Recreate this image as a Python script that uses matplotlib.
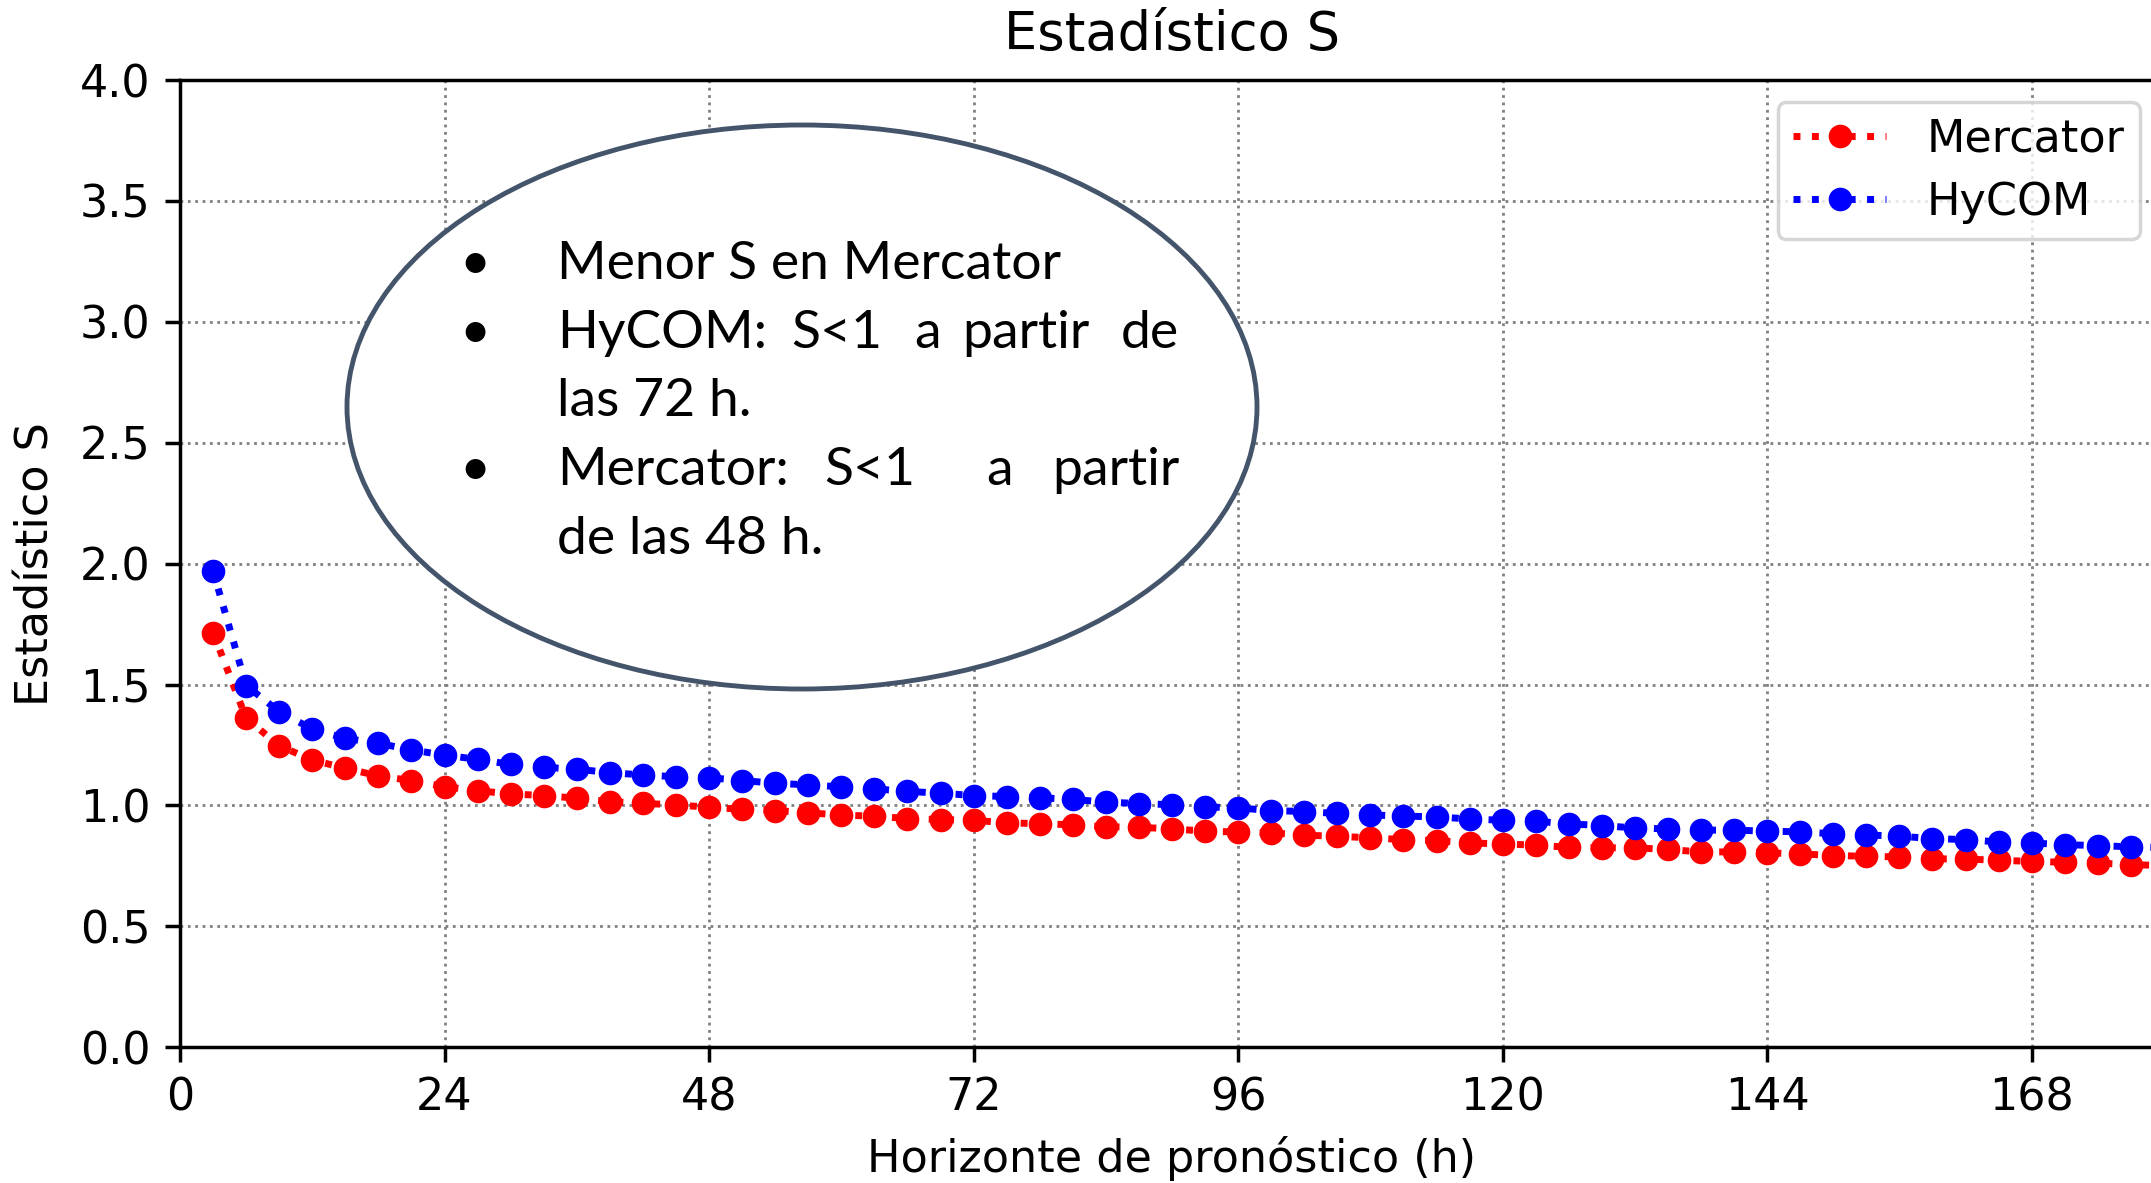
import numpy as np
import matplotlib
matplotlib.use("Agg")
import matplotlib.pyplot as plt
from matplotlib.patches import Ellipse

# forecast horizon (h) and S statistic per model
horas = [3, 6, 9, 12, 15, 18, 21, 24, 27, 30, 33, 36, 39, 42, 45, 48, 51, 54, 57, 60,
         63, 66, 69, 72, 75, 78, 81, 84, 87, 90, 93, 96, 99, 102, 105, 108, 111, 114, 117, 120,
         123, 126, 129, 132, 135, 138, 141, 144, 147, 150, 153, 156, 159, 162, 165, 168, 171, 174, 177, 180]

s_mercator = [1.715, 1.361, 1.247, 1.188, 1.154, 1.122, 1.103, 1.078, 1.061, 1.048,
              1.041, 1.030, 1.016, 1.009, 1.002, 0.993, 0.984, 0.979, 0.970, 0.960,
              0.956, 0.946, 0.942, 0.939, 0.928, 0.925, 0.920, 0.912, 0.910, 0.903,
              0.894, 0.890, 0.887, 0.877, 0.873, 0.866, 0.859, 0.855, 0.845, 0.841,
              0.836, 0.827, 0.825, 0.825, 0.818, 0.808, 0.808, 0.804, 0.800, 0.793,
              0.790, 0.787, 0.779, 0.779, 0.773, 0.769, 0.765, 0.762, 0.755, 0.752]

s_hycom = [1.970, 1.496, 1.388, 1.316, 1.278, 1.257, 1.230, 1.208, 1.191, 1.170,
           1.158, 1.150, 1.136, 1.126, 1.119, 1.115, 1.103, 1.092, 1.085, 1.077,
           1.069, 1.058, 1.051, 1.041, 1.037, 1.032, 1.025, 1.014, 1.008, 1.003,
           0.994, 0.990, 0.979, 0.975, 0.967, 0.961, 0.956, 0.953, 0.944, 0.939,
           0.935, 0.924, 0.917, 0.907, 0.903, 0.898, 0.898, 0.894, 0.891, 0.883,
           0.878, 0.873, 0.863, 0.859, 0.849, 0.845, 0.838, 0.834, 0.829, 0.826]

xticks = [0, 24, 48, 72, 96, 120, 144, 168]
yticks = [0.0, 0.5, 1.0, 1.5, 2.0, 2.5, 3.0, 3.5, 4.0]

notas = [
    (True, ["Menor", "S", "en", "Mercator"], None),
    (True, ["HyCOM:", "S<1", "a", "partir", "de"], [557, 791, 914, 962, None]),
    (False, ["las", "72", "h."], None),
    (True, ["Mercator:", "S<1", "a", "partir"], [557, 824, 986, None]),
    (False, ["de", "las", "48", "h."], None),
]

W, H = 2151, 1183
fig = plt.figure(figsize=(W / 100, H / 100), dpi=100)
ax = fig.add_axes([180 / W, 1 - 1047.3 / H, 180 * 11.022 / W, 967.3 / H])

ax.plot(horas, s_mercator, ':', color='red', marker='o', ms=16, lw=5, label='Mercator')
ax.plot(horas, s_hycom, ':', color='blue', marker='o', ms=16, lw=5, label='HyCOM')

ax.set_xlim(0, 180)
ax.set_ylim(0, 4)
ax.set_xticks(xticks)
ax.set_yticks(yticks)
ax.set_yticklabels([f"{v:.1f}" for v in yticks])
ax.tick_params(labelsize=32, length=11, width=2.5, pad=10)
for sp in ax.spines.values():
    sp.set_linewidth(2.5)
ax.grid(True, linestyle=':', color='gray', lw=2)

ax.set_title("Estadístico S", fontsize=38, pad=22)
ax.set_xlabel("Horizonte de pronóstico (h)", fontsize=32, labelpad=12)
ax.set_ylabel("Estadístico S", fontsize=32, labelpad=16)

leg = ax.legend(loc='upper right', bbox_to_anchor=(2140 / W, 1 - 102 / H),
                bbox_transform=fig.transFigure, borderaxespad=0, fontsize=32,
                handlelength=2.1, handletextpad=0.9, labelspacing=0.45,
                borderpad=0.35, frameon=True)
leg.get_frame().set_linewidth(2.5)
leg.get_frame().set_edgecolor('0.8')

# callout ellipse with notes
ell = Ellipse((802 / W, 1 - 407 / H), 910 / W, 564 / H, transform=fig.transFigure,
              facecolor='white', edgecolor='#44546A', lw=3.5, zorder=5)
fig.add_artist(ell)

fs = 38.5
left, right = 557, 1179
base0, step = 279, 68.7
for i, (bullet, words, starts) in enumerate(notas):
    yb = 1 - (base0 + i * step) / H
    if bullet:
        fig.text(475 / W, yb, "•", fontsize=fs, family='Lato', ha='center',
                 va='baseline', zorder=6)
    if starts is None:
        fig.text(left / W, yb, " ".join(words), fontsize=fs, family='Lato',
                 ha='left', va='baseline', zorder=6)
    else:
        for w, x0 in zip(words, starts):
            if x0 is None:
                fig.text(right / W, yb, w, fontsize=fs, family='Lato',
                         ha='right', va='baseline', zorder=6)
            else:
                fig.text(x0 / W, yb, w, fontsize=fs, family='Lato',
                         ha='left', va='baseline', zorder=6)

fig.savefig("out.png", dpi=100)
